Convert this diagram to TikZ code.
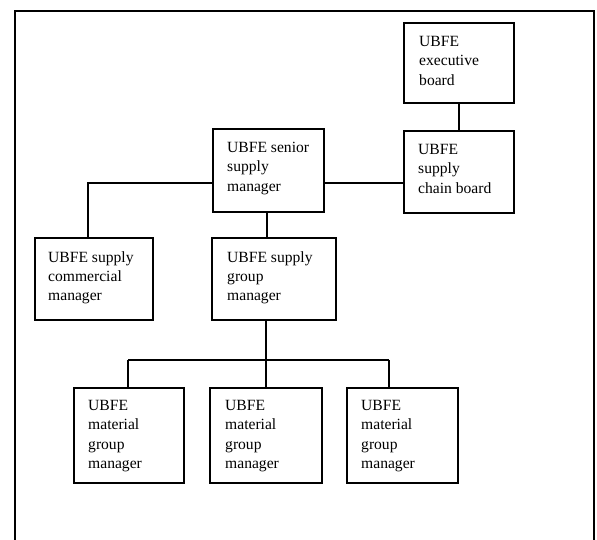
\documentclass[tikz,border=0pt]{standalone}
\usepackage{fontspec}
\setmainfont{Liberation Serif}
\begin{document}
\begin{tikzpicture}[x=1pt,y=-1pt,
  orgbox/.style={draw=black,line width=1.6pt,rectangle,inner sep=0pt,anchor=north west},
  orgtxt/.style={anchor=north west,inner sep=0pt,align=left,font=\fontsize{15.6}{19.3}\selectfont},
  link/.style={draw=black,line width=1.6pt}]
\useasboundingbox (0,0) rectangle (597,539);
\clip (0,0) rectangle (597,539);
\fill[white] (0,0) rectangle (597,539);
% frame
\draw[link] (15,545) -- (15,11) -- (594,11) -- (594,545);
% boxes
\node[orgbox,minimum width=110pt,minimum height=80pt] (exec) at (403,22) {};
\node[orgbox,minimum width=110pt,minimum height=82pt] (chain) at (403,130) {};
\node[orgbox,minimum width=111pt,minimum height=83pt] (senior) at (212,128) {};
\node[orgbox,minimum width=118pt,minimum height=82pt] (comm) at (34,237) {};
\node[orgbox,minimum width=124pt,minimum height=82pt] (group) at (211,237) {};
\node[orgbox,minimum width=110pt,minimum height=95pt] (mat1) at (73,387) {};
\node[orgbox,minimum width=112pt,minimum height=95pt] (mat2) at (209,387) {};
\node[orgbox,minimum width=111pt,minimum height=95pt] (mat3) at (346,387) {};
% texts
\node[orgtxt] (execT) at (419,36) {UBFE\\executive\\board};
\node[orgtxt] (chainT) at (418,144) {UBFE\\supply\\chain board};
\node[orgtxt] (seniorT) at (227,142) {UBFE senior\\supply\\manager};
\node[orgtxt] (commT) at (48,251) {UBFE supply\\commercial\\manager};
\node[orgtxt] (groupT) at (227,251) {UBFE supply\\group\\manager};
\node[orgtxt] (mat1T) at (88,400) {UBFE\\material\\group\\manager};
\node[orgtxt] (mat2T) at (225,400) {UBFE\\material\\group\\manager};
\node[orgtxt] (mat3T) at (361,400) {UBFE\\material\\group\\manager};
% helper coordinates
\coordinate (hy) at (0,183);
\coordinate (cx) at (88,0);
\coordinate (gx) at (267,0);
\coordinate (bus) at (0,360);
\coordinate (bl) at (128,0);
\coordinate (bm) at (266,0);
\coordinate (br) at (389,0);
% connectors
\draw[link] (exec.south) -- (chain.north);
\draw[link] (senior.east |- hy) -- (chain.west |- hy);
\draw[link] (senior.west |- hy) -- (cx |- hy) -- (cx |- comm.north);
\draw[link] (gx |- senior.south) -- (gx |- group.north);
\draw[link] (bm |- group.south) -- (bm |- bus);
\draw[link] (bl |- bus) -- (br |- bus);
\draw[link] (bl |- bus) -- (bl |- mat1.north);
\draw[link] (bm |- bus) -- (bm |- mat2.north);
\draw[link] (br |- bus) -- (br |- mat3.north);
\end{tikzpicture}
\end{document}
